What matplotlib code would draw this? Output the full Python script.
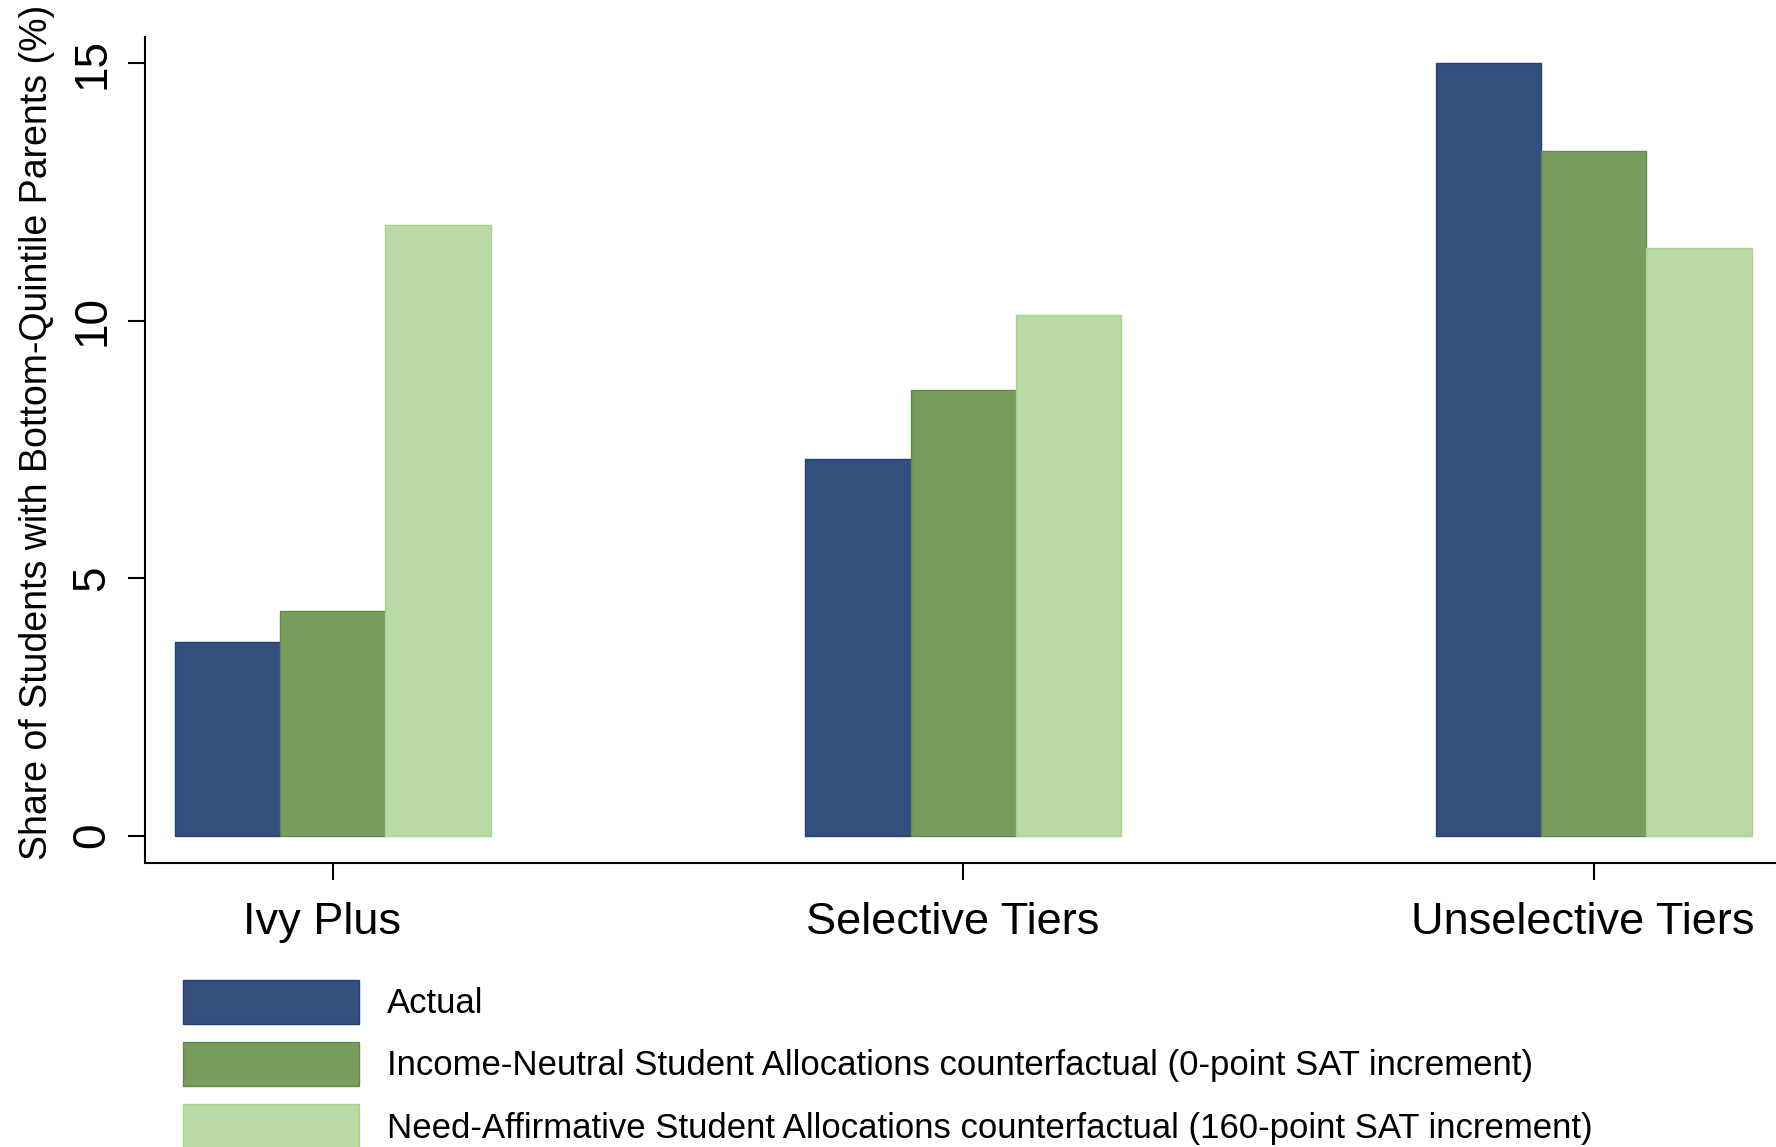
import matplotlib.pyplot as plt
import matplotlib.transforms as mtransforms
import numpy as np

plt.rcParams['font.family'] = ['Liberation Sans', 'DejaVu Sans']

# data
tiers = ["Ivy Plus", "Selective Tiers", "Unselective Tiers"]
actual = [3.76, 7.32, 15.0]
income_neutral = [4.37, 8.66, 13.30]
need_affirmative = [11.85, 10.11, 11.41]
series_names = [
    "Actual",
    "Income-Neutral Student Allocations counterfactual (0-point SAT increment)",
    "Need-Affirmative Student Allocations counterfactual (160-point SAT increment)",
]
colors = ["#344e7e", "#789c5d", "#b9daa5"]
edges = ["#24407a", "#5f8c45", "#a9d28e"]

fig = plt.figure(figsize=(17.76, 11.47), dpi=100)
ax = fig.add_axes([0.0816, 0.2476, 0.9184, 0.7198])

x = np.arange(len(tiers))
w = 0.167
all_series = [actual, income_neutral, need_affirmative]
for i in range(len(all_series)):
    ax.bar(x + (i - 1) * w, all_series[i], width=w, color=colors[i],
           edgecolor=edges[i], linewidth=1, label=series_names[i])

ax.set_xlim(-0.298, 2.289)
ax.set_ylim(-0.53, 15.5)
ax.set_yticks([0, 5, 10, 15])
ax.set_xticks(x)
ax.set_xticklabels(tiers, fontsize=32.5)

ax.spines['top'].set_visible(False)
ax.spines['right'].set_visible(False)
ax.spines['left'].set_linewidth(1.5)
ax.spines['bottom'].set_linewidth(1.5)
ax.tick_params(axis='both', length=17 * 0.72, width=1.5, color='black')
ax.tick_params(axis='y', labelsize=33, pad=10)
ax.tick_params(axis='x', pad=15.5)
for lab in ax.get_yticklabels():
    lab.set_rotation(90)
    lab.set_va('center')
shift = mtransforms.ScaledTranslation(-11 / 100, 0, fig.dpi_scale_trans)
for lab in ax.get_xticklabels():
    lab.set_transform(lab.get_transform() + shift)

ax.set_ylabel("Share of Students with Bottom-Quintile Parents (%)", fontsize=27)
ax.yaxis.set_label_coords(-0.0552, 0.522)

ax.legend(loc='upper left', bbox_to_anchor=(0.1030, 0.1456), bbox_transform=fig.transFigure,
          frameon=False, fontsize=25, handlelength=5.07, handleheight=1.573,
          handletextpad=0.8, borderpad=0, borderaxespad=0, labelspacing=0.52)

fig.savefig("out.png", dpi=100)
